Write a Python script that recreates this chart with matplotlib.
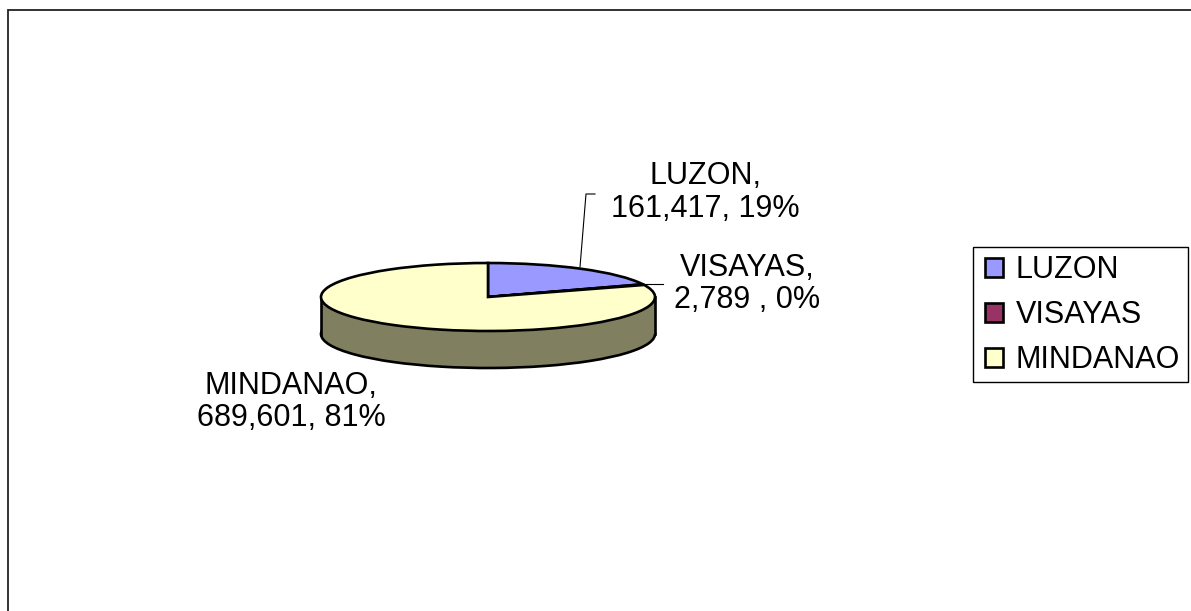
import matplotlib
matplotlib.use("Agg")
import matplotlib.pyplot as plt
from matplotlib.patches import Rectangle

plt.rcParams['font.family'] = ['Liberation Sans', 'DejaVu Sans']

categories = ["LUZON", "VISAYAS", "MINDANAO"]
values = [161417, 2789, 689601]
data_labels = ["LUZON,\n161,417, 19%", "VISAYAS,\n2,789 , 0%", "MINDANAO,\n689,601, 81%"]
colors = ["#9999FF", "#993366", "#FFFFCC"]
wall_color = "#808060"

W, H = 1191, 611
fig = plt.figure(figsize=(W / 100, H / 100), dpi=100, facecolor="white")

# overlay in pixel coordinates for frame, labels, leaders
ov = fig.add_axes([0, 0, 1, 1], zorder=3)
ov.set_xlim(0, W)
ov.set_ylim(H, 0)
ov.axis("off")
ov.patch.set_alpha(0)

# pie axes: unit ellipse bbox in pixels
cx, cy, rx, ry = 488, 297, 167, 34
depth = 37 / ry
ax = fig.add_axes([(cx - rx) / W, 1 - (cy + ry) / H, 2 * rx / W, 2 * ry / H], zorder=2)

lw = 1.9
wall, _ = ax.pie(values, startangle=90, counterclock=False, center=(0, -depth),
                 colors=[wall_color] * 3, wedgeprops=dict(edgecolor="black", linewidth=lw),
                 frame=False)
for w in wall:
    w.set_zorder(1)
    w.set_clip_on(False)
ax.add_patch(Rectangle((-1, -depth), 2, depth, facecolor=wall_color, edgecolor="none",
                       zorder=2, clip_on=False))
ax.add_patch(Rectangle((-0.9, -depth - 0.2), 1.8, depth, facecolor=wall_color, edgecolor="none",
                       zorder=2, clip_on=False))
ax.plot([-1, -1], [0, -depth], color="black", lw=lw, zorder=3, clip_on=False)
ax.plot([1, 1], [0, -depth], color="black", lw=lw, zorder=3, clip_on=False)
top, _ = ax.pie(values, startangle=90, counterclock=False, colors=colors,
                wedgeprops=dict(edgecolor="black", linewidth=lw), frame=False)
for w in top:
    w.set_zorder(4)
    w.set_clip_on(False)
ax.set_aspect("auto")
ax.set_xlim(-1, 1)
ax.set_ylim(-1, 1)
ax.axis("off")

# frame (top and left only)
ov.plot([8, 8, W], [H, 10, 10], color="#222222", lw=1.3, solid_joinstyle="miter")

fs = 22
label_pos = [(705, 192.5), (747, 284), (291, 402)]
for s, (x, y) in zip(data_labels, label_pos):
    ov.text(x, y, s, ha="center", va="center", fontsize=fs, color="black", linespacing=1.13)

ov.plot([580, 586, 595], [267, 194, 194], color="black", lw=0.8)
ov.plot([640, 663], [284, 284], color="black", lw=0.8)

# legend box and legend
ov.add_patch(Rectangle((973, 247), 215, 135, facecolor="white", edgecolor="black", linewidth=1.0))
leg = ov.legend(top, categories, loc="upper left",
                bbox_to_anchor=(985 / W, 1 - 255 / H), bbox_transform=fig.transFigure,
                fontsize=fs, frameon=False, borderaxespad=0, borderpad=0,
                handlelength=0.58, handleheight=0.58, handletextpad=0.42, labelspacing=0.49)
for h in leg.legend_handles:
    h.set_linewidth(1.9)

fig.savefig("out.png", dpi=100, facecolor="white")
